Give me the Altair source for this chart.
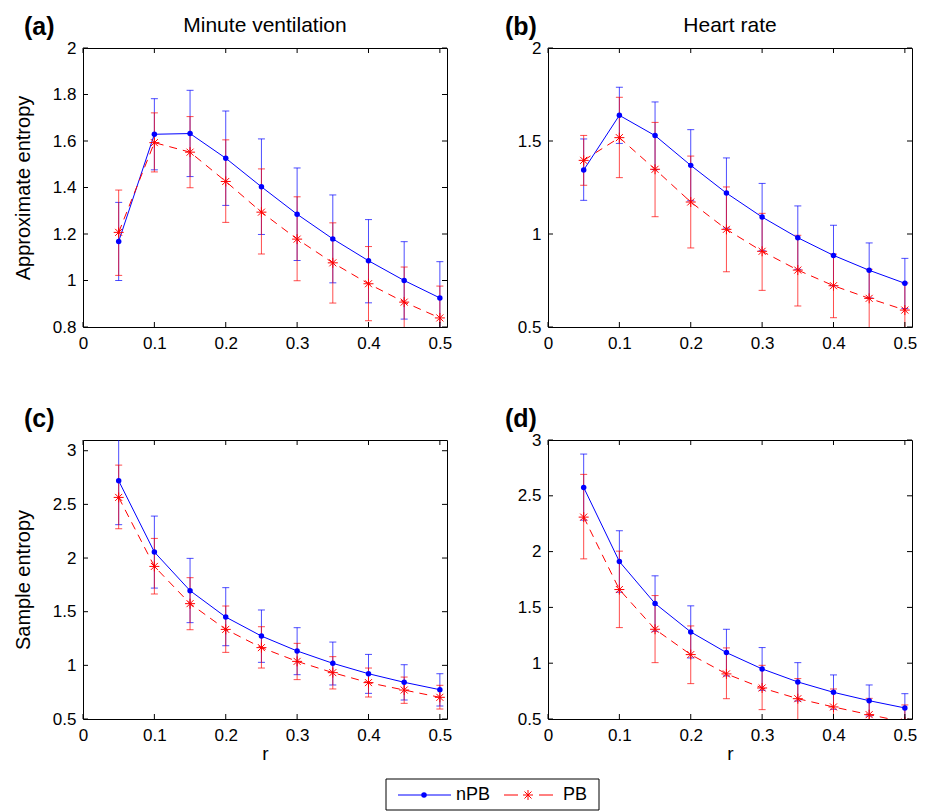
import altair as alt
import pandas as pd

# ---------------- data ----------------
r_vals = [0.05, 0.10, 0.15, 0.20, 0.25, 0.30, 0.35, 0.40, 0.45, 0.50]

# (a) Approximate entropy - Minute ventilation
a_npb = [1.168, 1.629, 1.632, 1.526, 1.403, 1.285, 1.179, 1.085, 1.000, 0.925]
a_npb_hi = [1.336, 1.782, 1.818, 1.729, 1.609, 1.484, 1.368, 1.262, 1.167, 1.081]
a_npb_lo = [1.000, 1.476, 1.447, 1.323, 1.198, 1.086, 0.990, 0.904, 0.834, 0.771]
a_pb = [1.207, 1.593, 1.552, 1.426, 1.294, 1.178, 1.076, 0.986, 0.907, 0.839]
a_pb_hi = [1.389, 1.721, 1.705, 1.605, 1.480, 1.360, 1.248, 1.146, 1.058, 0.976]
a_pb_lo = [1.022, 1.467, 1.399, 1.250, 1.114, 0.999, 0.903, 0.827, 0.757, 0.702]

# (b) Approximate entropy - Heart rate
b_npb = [1.344, 1.638, 1.529, 1.369, 1.220, 1.091, 0.980, 0.885, 0.805, 0.735]
b_npb_hi = [1.511, 1.789, 1.710, 1.561, 1.409, 1.272, 1.151, 1.047, 0.952, 0.869]
b_npb_lo = [1.181, 1.487, 1.346, 1.179, 1.032, 0.910, 0.810, 0.722, 0.656, 0.599]
b_pb = [1.396, 1.518, 1.348, 1.172, 1.025, 0.907, 0.806, 0.722, 0.654, 0.591]
b_pb_hi = [1.530, 1.735, 1.600, 1.419, 1.253, 1.111, 0.993, 0.892, 0.810, 0.737]
b_pb_lo = [1.262, 1.303, 1.093, 0.925, 0.797, 0.697, 0.613, 0.550, 0.490, 0.440]

# (c) Sample entropy - Minute ventilation
c_npb = [2.720, 2.056, 1.696, 1.450, 1.273, 1.134, 1.019, 0.922, 0.842, 0.773]
c_npb_hi = [3.130, 2.391, 1.997, 1.724, 1.516, 1.351, 1.217, 1.102, 1.006, 0.922]
c_npb_lo = [2.311, 1.720, 1.398, 1.183, 1.028, 0.913, 0.817, 0.739, 0.677, 0.621]
c_pb = [2.565, 1.922, 1.575, 1.335, 1.165, 1.037, 0.932, 0.839, 0.770, 0.702]
c_pb_hi = [2.866, 2.183, 1.817, 1.553, 1.360, 1.205, 1.081, 0.975, 0.891, 0.814]
c_pb_lo = [2.273, 1.665, 1.332, 1.121, 0.975, 0.867, 0.780, 0.705, 0.646, 0.593]

# (d) Sample entropy - Heart rate
d_npb = [2.575, 1.911, 1.535, 1.280, 1.095, 0.949, 0.832, 0.739, 0.664, 0.599]
d_npb_hi = [2.874, 2.187, 1.783, 1.514, 1.304, 1.140, 1.005, 0.895, 0.805, 0.727]
d_npb_lo = [2.282, 1.636, 1.286, 1.047, 0.886, 0.757, 0.661, 0.587, 0.527, 0.476]
d_pb = [2.309, 1.660, 1.304, 1.077, 0.904, 0.778, 0.682, 0.608, 0.539, 0.473]
d_pb_hi = [2.692, 2.004, 1.606, 1.334, 1.137, 0.981, 0.862, 0.769, 0.685, 0.626]
d_pb_lo = [1.935, 1.319, 1.005, 0.817, 0.682, 0.584, 0.490, 0.450, 0.400, 0.320]

x_ticks = [0, 0.1, 0.2, 0.3, 0.4, 0.5]
x_domain = [0, 0.51]
yticks_a = [0.8, 1.0, 1.2, 1.4, 1.6, 1.8, 2.0]
yticks_b = [0.5, 1.0, 1.5, 2.0]
yticks_c = [0.5, 1.0, 1.5, 2.0, 2.5, 3.0]
yticks_d = [0.5, 1.0, 1.5, 2.0, 2.5, 3.0]
ydom_a = [0.8, 2.0]
ydom_b = [0.5, 2.0]
ydom_c = [0.5, 3.1]
ydom_d = [0.5, 3.0]

series_names = ["nPB", "PB"]

# ---------------- styling ----------------
W, H = 364, 279
FONT = "Liberation Sans"
BLUE = "#0000ff"
RED = "#ff0000"
STAR = "M-1,0L1,0M0,-1L0,1M-0.7,-0.7L0.7,0.7M-0.7,0.7L0.7,-0.7"
TICK = 5


def sdf(mean, lo, hi):
    return pd.DataFrame({"r": r_vals, "v": mean, "lo": lo, "hi": hi})


def panel(npb, pb, ydom, yticks, letter, letter_dx, title=None, ytitle=None, xtitle=None,
          legend=False):
    xs = alt.Scale(domain=x_domain, nice=False, zero=False)
    ys = alt.Scale(domain=ydom, nice=False, zero=False)
    xaxis_kw = dict(values=x_ticks, format=".1~f", grid=False, ticks=False, domain=False,
                    labelFontSize=17, labelPadding=8, labelColor="black", labelFont=FONT,
                    labelFlush=False, titleFontSize=19, titleFont=FONT, titleFontWeight="normal",
                    titlePadding=1, titleColor="black")
    xaxis = alt.Axis(title=xtitle, **xaxis_kw) if xtitle else alt.Axis(title=None, **xaxis_kw)
    yaxis_kw = dict(values=yticks, format=".1~f", grid=False, ticks=False, domain=False,
                    labelFontSize=17, labelPadding=7, labelColor="black", labelFont=FONT,
                    labelFlush=False)
    if ytitle:
        yaxis = alt.Axis(title=ytitle, titleFontSize=20, titleFont=FONT, titleFontWeight="normal",
                         titleColor="black", titleX=-60, titleY=H / 2, titleAngle=-90,
                         titleBaseline="middle", titleAlign="center", **yaxis_kw)
    else:
        yaxis = alt.Axis(title=None, **yaxis_kw)

    def X(f):
        return alt.X(f"{f}:Q", scale=xs, axis=xaxis)

    def Y(f):
        return alt.Y(f"{f}:Q", scale=ys, axis=yaxis)

    dn = sdf(*npb)
    dp = sdf(*pb)

    def bars(df, color):
        base = alt.Chart(df)
        rule = base.mark_rule(clip=True, color=color, strokeWidth=1, opacity=0.7).encode(
            x=X("r"), y=Y("lo"), y2="hi:Q")
        cap_hi = base.mark_tick(clip=True, color=color, orient="horizontal", size=7,
                                thickness=1, opacity=0.7).encode(x=X("r"), y=Y("hi"))
        cap_lo = base.mark_tick(clip=True, color=color, orient="horizontal", size=7,
                                thickness=1, opacity=0.7).encode(x=X("r"), y=Y("lo"))
        return [rule, cap_hi, cap_lo]

    line_n = alt.Chart(dn).mark_line(clip=True, color=BLUE, strokeWidth=1).encode(x=X("r"), y=Y("v"))
    line_p = alt.Chart(dp).mark_line(clip=True, color=RED, strokeWidth=1, strokeDash=[8, 6]).encode(
        x=X("r"), y=Y("v"))
    pts_n = alt.Chart(dn).mark_circle(clip=True, color=BLUE, size=30, opacity=1).encode(x=X("r"), y=Y("v"))
    pts_p = alt.Chart(dp).mark_point(clip=True, shape=STAR, color=RED, size=100, strokeWidth=1,
                                     filled=False, opacity=1).encode(x=X("r"), y=Y("v"))

    xt = pd.DataFrame({"t": x_ticks})
    yt = pd.DataFrame({"t": yticks})
    tb = alt.Chart(xt).mark_rule(color="black", strokeWidth=1).encode(
        x=X("t"), y=alt.value(H), y2=alt.value(H - TICK))
    tt = alt.Chart(xt).mark_rule(color="black", strokeWidth=1).encode(
        x=X("t"), y=alt.value(0), y2=alt.value(TICK))
    tl = alt.Chart(yt).mark_rule(color="black", strokeWidth=1).encode(
        y=Y("t"), x=alt.value(0), x2=alt.value(TICK))
    tr = alt.Chart(yt).mark_rule(color="black", strokeWidth=1).encode(
        y=Y("t"), x=alt.value(W - TICK), x2=alt.value(W))

    lt = alt.Chart(pd.DataFrame({"t": [letter]})).mark_text(
        align="left", baseline="top", font=FONT, fontSize=25, fontWeight="bold", color="black"
    ).encode(text="t:N", x=alt.value(letter_dx), y=alt.value(-33))

    layers = bars(dn, BLUE) + bars(dp, RED) + [line_n, line_p, pts_n, pts_p, tb, tt, tl, tr, lt]

    if title:
        ttl = alt.Chart(pd.DataFrame({"t": [title]})).mark_text(
            align="center", baseline="alphabetic", font=FONT, fontSize=21, color="black"
        ).encode(text="t:N", x=alt.value(W / 2), y=alt.value(-16))
        layers.append(ttl)

    if legend:
        one = pd.DataFrame({"k": [0]})
        ly = 355
        box = alt.Chart(one).mark_rect(fill="white", stroke="black", strokeWidth=1).encode(
            x=alt.value(303), x2=alt.value(516), y=alt.value(339), y2=alt.value(370))
        ln = alt.Chart(one).mark_rule(color=BLUE, strokeWidth=1).encode(
            x=alt.value(315), x2=alt.value(368), y=alt.value(ly))
        pn = alt.Chart(one).mark_circle(color=BLUE, size=30, opacity=1).encode(
            x=alt.value(341), y=alt.value(ly))
        tn = alt.Chart(pd.DataFrame({"t": [series_names[0]]})).mark_text(
            align="left", baseline="middle", font=FONT, fontSize=18, color="black").encode(
            text="t:N", x=alt.value(373), y=alt.value(ly))
        lp = alt.Chart(one).mark_rule(color=RED, strokeWidth=1, strokeDash=[14, 21]).encode(
            x=alt.value(421), x2=alt.value(470), y=alt.value(ly))
        pp = alt.Chart(one).mark_point(shape=STAR, color=RED, size=100, strokeWidth=1,
                                       filled=False, opacity=1).encode(
            x=alt.value(445), y=alt.value(ly))
        tp = alt.Chart(pd.DataFrame({"t": [series_names[1]]})).mark_text(
            align="left", baseline="middle", font=FONT, fontSize=18, color="black").encode(
            text="t:N", x=alt.value(480), y=alt.value(ly))
        layers += [box, ln, pn, tn, lp, pp, tp]

    return alt.layer(*layers).properties(width=W, height=H)


A = panel((a_npb, a_npb_lo, a_npb_hi), (a_pb, a_pb_lo, a_pb_hi), ydom_a, yticks_a, "(a)", -59,
          title="Minute ventilation", ytitle="Approximate entropy")
B = panel((b_npb, b_npb_lo, b_npb_hi), (b_pb, b_pb_lo, b_pb_hi), ydom_b, yticks_b, "(b)", -43,
          title="Heart rate")
C = panel((c_npb, c_npb_lo, c_npb_hi), (c_pb, c_pb_lo, c_pb_hi), ydom_c, yticks_c, "(c)", -59,
          ytitle="Sample entropy", xtitle="r", legend=True)
D = panel((d_npb, d_npb_lo, d_npb_hi), (d_pb, d_pb_lo, d_pb_hi), ydom_d, yticks_d, "(d)", -43,
          xtitle="r")

chart = alt.concat(A, B, C, D, columns=2, spacing={"row": 113, "column": 101},
                   bounds="flush").properties(
    padding={"left": 12, "top": 14, "right": 5, "bottom": 5}
).configure(font=FONT).configure_view(stroke="black", strokeWidth=1)

chart.save("out.html", embed_options={"renderer": "svg", "actions": False})
